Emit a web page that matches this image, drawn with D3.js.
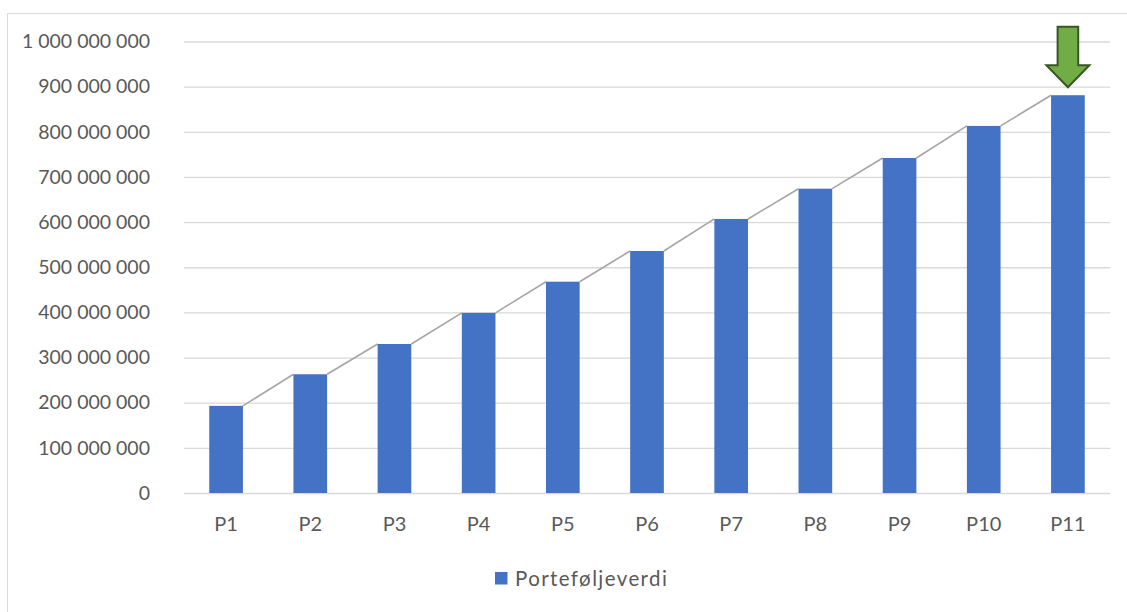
<!DOCTYPE html>
<html>
<head>
<meta charset="utf-8">
<script src="https://cdn.jsdelivr.net/npm/d3@7"></script>
<style>
  html, body { margin: 0; padding: 0; background: #fff; }
  svg { display: block; }
  text { font-family: Lato, "Open Sans", sans-serif; fill: #595959; }
</style>
</head>
<body>
<svg id="chart" width="1127" height="612"></svg>
<script>
// Portfolio value per period
const categories = ["P1", "P2", "P3", "P4", "P5", "P6", "P7", "P8", "P9", "P10", "P11"];
const portfolioValues = [193e6, 263e6, 330e6, 399e6, 468e6, 536e6, 607e6, 674e6, 742e6, 813e6, 881e6];
const yTicks = [0, 1e8, 2e8, 3e8, 4e8, 5e8, 6e8, 7e8, 8e8, 9e8, 1e9];
const seriesName = "Porteføljeverdi";
const highlighted = "P11";

const W = 1127, H = 612;
const plot = { left: 184, right: 1110, top: 41.5, bottom: 493 };

const svg = d3.select("#chart");

// outer chart frame
svg.append("rect")
  .attr("x", 7.5).attr("y", 13.5)
  .attr("width", W + 10).attr("height", H + 10)
  .attr("fill", "none").attr("stroke", "#d9d9d9").attr("stroke-width", 1);

const x = d3.scaleBand().domain(categories).range([plot.left, plot.right]).paddingInner(0.6).paddingOuter(0.3);
const y = d3.scaleLinear().domain([0, 1e9]).range([plot.bottom, plot.top]);

const fmt = v => d3.format(",")(v).replace(/,/g, " ");

// horizontal gridlines
const yAxis = d3.axisLeft(y).tickValues(yTicks).tickSize(-(plot.right - plot.left)).tickPadding(34).tickFormat(fmt);
const gy = svg.append("g").attr("transform", `translate(${plot.left},0)`).call(yAxis);
gy.select(".domain").remove();
gy.selectAll(".tick line").attr("stroke", "#d9d9d9").attr("stroke-width", 1.3);
gy.selectAll(".tick text").attr("font-size", 19.5).attr("fill", "#595959").attr("font-family", "Lato, sans-serif");

// category axis
const xAxis = d3.axisBottom(x).tickSize(0).tickPadding(24);
const gx = svg.append("g").attr("transform", `translate(0,${plot.bottom})`).call(xAxis);
gx.select(".domain").remove();
gx.selectAll(".tick text").attr("font-size", 20).attr("fill", "#595959").attr("font-family", "Lato, sans-serif");

// series lines joining the tops of consecutive bars
const pairs = d3.pairs(categories.map((c, i) => ({ c, v: portfolioValues[i] })));
svg.append("g").selectAll("line").data(pairs).join("line")
  .attr("x1", d => x(d[0].c) + x.bandwidth())
  .attr("y1", d => y(d[0].v))
  .attr("x2", d => x(d[1].c))
  .attr("y2", d => y(d[1].v))
  .attr("stroke", "#a5a5a5").attr("stroke-width", 1.6);

// bars
svg.append("g").selectAll("rect").data(portfolioValues).join("rect")
  .attr("x", (d, i) => x(categories[i]))
  .attr("y", d => y(d))
  .attr("width", x.bandwidth())
  .attr("height", d => y(0) - y(d))
  .attr("fill", "#4472c4");

// downward arrow marking the last period
const hx = x(highlighted) + x.bandwidth() / 2;
const tipY = y(portfolioValues[categories.indexOf(highlighted)]) - 8;
const arrow = [
  [hx - 10.3, tipY - 60.5], [hx + 10.3, tipY - 60.5], [hx + 10.3, tipY - 22],
  [hx + 21.5, tipY - 22], [hx, tipY], [hx - 21.5, tipY - 22], [hx - 10.3, tipY - 22]
];
svg.append("path")
  .attr("d", d3.line()(arrow) + "Z")
  .attr("fill", "#70ad47").attr("stroke", "#385723").attr("stroke-width", 2).attr("stroke-linejoin", "miter");

// legend
const lg = svg.append("g").attr("transform", "translate(495,572)");
lg.append("rect").attr("width", 12.5).attr("height", 12.5).attr("fill", "#4472c4");
lg.append("text").attr("x", 20).attr("y", 13.5).attr("font-size", 20.5).attr("letter-spacing", 1.4).text(seriesName);
</script>
</body>
</html>
